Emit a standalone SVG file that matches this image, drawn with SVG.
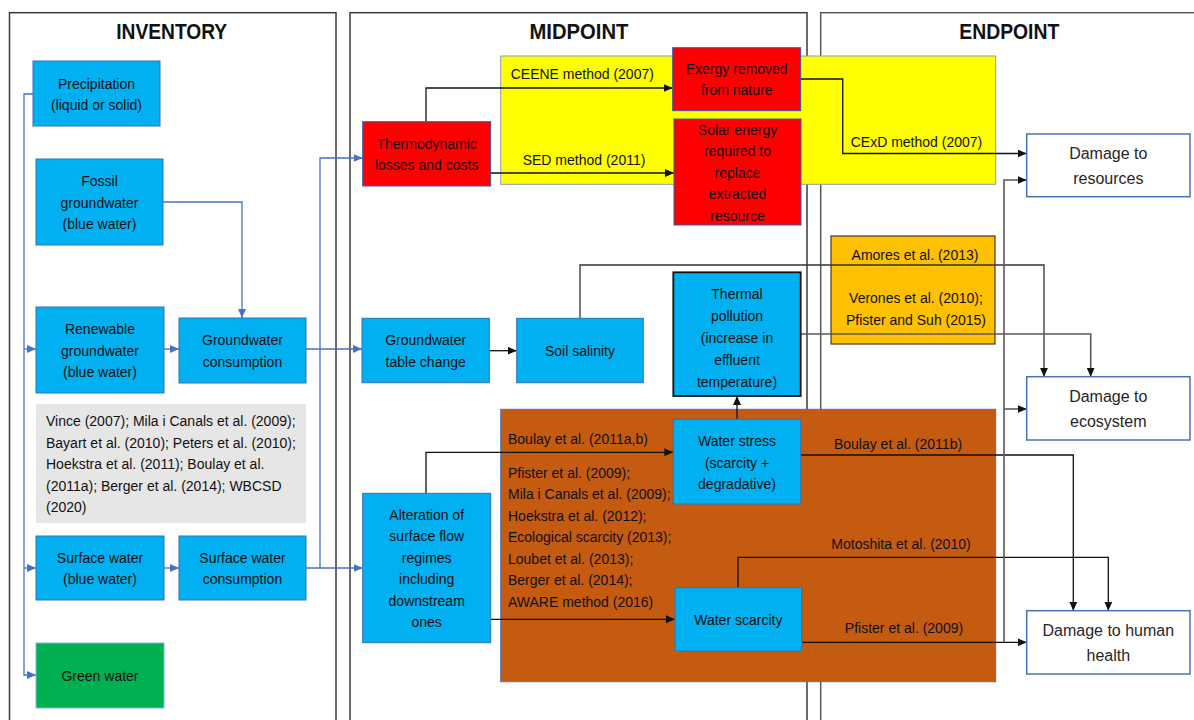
<svg xmlns="http://www.w3.org/2000/svg" width="1194" height="720" viewBox="0 0 1194 720">
<style>
text{font-family:"Liberation Sans",Arial,sans-serif;font-size:14px;fill:#111}
.c{text-anchor:middle}
.title{font-size:22px;font-weight:bold;text-anchor:middle;fill:#111}
.panel{fill:none;stroke:#3a3a3a;stroke-width:1.5}
.blue{fill:#00b0f0;stroke:#2e75b6;stroke-width:1}
.red{fill:#ff0000;stroke:#2e5fa8;stroke-width:1}
.dmg{fill:#fff;stroke:#4a72b8;stroke-width:1.5}
.dmg-t{font-size:16px;fill:#262626;text-anchor:middle}
.lb{fill:none;stroke:#4472c4;stroke-width:1.3}
.lk{fill:none;stroke:#111;stroke-width:1.3}
.lg{fill:none;stroke:#5a5a5a;stroke-width:1.6}
</style>
<defs>
<marker id="ab" markerUnits="userSpaceOnUse" markerWidth="10" markerHeight="8" refX="9" refY="4" orient="auto"><path d="M0,0 L9,4 L0,8 z" fill="#4472c4"/></marker>
<marker id="ak" markerUnits="userSpaceOnUse" markerWidth="10" markerHeight="8" refX="9" refY="4" orient="auto"><path d="M0,0 L9,4 L0,8 z" fill="#111"/></marker>
<marker id="ag" markerUnits="userSpaceOnUse" markerWidth="10" markerHeight="8" refX="9" refY="4" orient="auto"><path d="M0,0 L9,4 L0,8 z" fill="#111"/></marker>
</defs>
<rect width="1194" height="720" fill="#fff"/>

<g id="panels">
<rect class="panel" x="9.5" y="12.7" width="326.5" height="720"/>
<rect class="panel" x="350" y="12.7" width="457" height="720"/>
<rect class="panel" x="820.7" y="12.7" width="400" height="720" style="stroke:#5a5a5a"/>
<text class="title" x="171.7" y="39" textLength="111" lengthAdjust="spacingAndGlyphs">INVENTORY</text>
<text class="title" x="579" y="39" textLength="99" lengthAdjust="spacingAndGlyphs">MIDPOINT</text>
<text class="title" x="1009.3" y="39" textLength="100" lengthAdjust="spacingAndGlyphs">ENDPOINT</text>
</g>

<g id="groups">
<rect id="yellow-box" x="500.7" y="56" width="495" height="128.3" fill="#ffff00" stroke="#8a9ac0" stroke-width="1"/>
<rect id="orange-box" x="831" y="236" width="164" height="108" fill="#ffc000" stroke="#3a3a3a" stroke-width="1.2"/>
<rect id="brown-box" x="500.7" y="409.3" width="495" height="272.4" fill="#c55a11" stroke="#4a72b8" stroke-width="1"/>
<rect id="refs-box" x="36" y="404" width="270" height="119" fill="#e7e6e6"/>
</g>

<g id="connectors">
<path class="lb" d="M33,94 H24 V675 H36" marker-end="url(#ab)"/>
<path class="lb" d="M24,349 H36" marker-end="url(#ab)"/>
<path class="lb" d="M24,568 H36" marker-end="url(#ab)"/>
<path class="lb" d="M163,202 H242 V318" marker-end="url(#ab)"/>
<path class="lb" d="M164,349 H179" marker-end="url(#ab)"/>
<path class="lb" d="M306,349 H362" marker-end="url(#ab)"/>
<path class="lb" d="M164,568 H179" marker-end="url(#ab)"/>
<path class="lb" d="M306,568 H362.7" marker-end="url(#ab)"/>
<path class="lb" d="M320,568 V158 H362.7" marker-end="url(#ab)"/>

<path class="lk" d="M426,121.7 V88 H672.7" marker-end="url(#ak)"/>
<path class="lk" d="M490.7,173 H674" marker-end="url(#ak)"/>
<path class="lk" d="M800.7,79 H842.7 V153.5 H1026.7" marker-end="url(#ak)"/>
<path class="lk" d="M489.3,350.7 H516.7" marker-end="url(#ak)"/>
<path class="lk" d="M580,318.3 V265 H1044 V376.7" marker-end="url(#ak)" style="stroke:#333"/>
<path class="lg" d="M800.7,334 H1090.7 V376.7" marker-end="url(#ag)"/>
<path class="lk" d="M737,419.3 V396" marker-end="url(#ak)"/>
<path class="lk" d="M426,493.3 V452.3 H673.3" marker-end="url(#ak)"/>
<path class="lk" d="M490.7,619.3 H675" marker-end="url(#ak)"/>
<path class="lk" d="M738,587.7 V557.3 H1108.3 V610.7" marker-end="url(#ak)"/>
<path class="lk" d="M801.7,642.3 H1026.7" marker-end="url(#ak)"/>
<path class="lk" d="M800.7,455 H1073.3 V610.7" marker-end="url(#ak)"/>
<path class="lg" d="M1004,642.3 V180 H1026.7" marker-end="url(#ag)"/>
<path class="lg" d="M1004,409 H1026.7" marker-end="url(#ag)"/>
</g>

<g id="precipitation">
<rect class="blue" x="33" y="61" width="127" height="65"/>
<text class="c" x="96.5" y="88.5">Precipitation</text>
<text class="c" x="96.5" y="110">(liquid or solid)</text>
</g>
<g id="fossil-groundwater">
<rect class="blue" x="36" y="159" width="127" height="86"/>
<text class="c" x="99.5" y="186">Fossil</text>
<text class="c" x="99.5" y="207.5">groundwater</text>
<text class="c" x="99.5" y="229">(blue water)</text>
</g>
<g id="renewable-groundwater">
<rect class="blue" x="36" y="307" width="128" height="86"/>
<text class="c" x="100" y="334">Renewable</text>
<text class="c" x="100" y="355.5">groundwater</text>
<text class="c" x="100" y="377">(blue water)</text>
</g>
<g id="groundwater-consumption">
<rect class="blue" x="179" y="318" width="127" height="65"/>
<text class="c" x="242.5" y="345.3">Groundwater</text>
<text class="c" x="242.5" y="366.8">consumption</text>
</g>
<g id="inventory-references">
<text x="46" y="426">Vince (2007); Mila i Canals et al. (2009);</text>
<text x="46" y="447.5">Bayart et al. (2010); Peters et al. (2010);</text>
<text x="46" y="469">Hoekstra et al. (2011); Boulay et al.</text>
<text x="46" y="490.5">(2011a); Berger et al. (2014); WBCSD</text>
<text x="46" y="512">(2020)</text>
</g>
<g id="surface-water">
<rect class="blue" x="36" y="536" width="128" height="64"/>
<text class="c" x="100" y="562.8">Surface water</text>
<text class="c" x="100" y="584.3">(blue water)</text>
</g>
<g id="surface-water-consumption">
<rect class="blue" x="179" y="536" width="127" height="64"/>
<text class="c" x="242.5" y="562.8">Surface water</text>
<text class="c" x="242.5" y="584.3">consumption</text>
</g>
<g id="green-water">
<rect x="36" y="643" width="128" height="65" fill="#00b050" stroke="#7fb8e0" stroke-width="1"/>
<text class="c" x="100" y="681">Green water</text>
</g>

<g id="thermodynamic-losses">
<rect class="red" x="362.7" y="121.7" width="128" height="64.3"/>
<text class="c" x="426.7" y="148.6">Thermodynamic</text>
<text class="c" x="426.7" y="170.1">losses and costs</text>
</g>
<g id="exergy-removed">
<rect class="red" x="672.7" y="47.7" width="128" height="63"/>
<text class="c" x="736.7" y="73.9">Exergy removed</text>
<text class="c" x="736.7" y="95.4">from nature</text>
</g>
<g id="solar-energy">
<rect class="red" x="674" y="119" width="127" height="106"/>
<text class="c" x="737.5" y="134.5">Solar energy</text>
<text class="c" x="737.5" y="156">required to</text>
<text class="c" x="737.5" y="177.5">replace</text>
<text class="c" x="737.5" y="199">extracted</text>
<text class="c" x="737.5" y="220.5">resource</text>
</g>
<g id="method-labels-resources">
<text x="510.7" y="79">CEENE method (2007)</text>
<text x="522.7" y="165">SED method (2011)</text>
<text x="850.7" y="146.7">CExD method (2007)</text>
</g>
<g id="groundwater-table-change">
<rect class="blue" x="362" y="318.3" width="127.3" height="64.4"/>
<text class="c" x="425.7" y="345">Groundwater</text>
<text class="c" x="425.7" y="366.5">table change</text>
</g>
<g id="soil-salinity">
<rect class="blue" x="516.7" y="318.3" width="126.6" height="64.4"/>
<text class="c" x="580" y="356">Soil salinity</text>
</g>
<g id="thermal-pollution">
<rect x="673.3" y="272.3" width="127.4" height="123.7" fill="#00b0f0" stroke="#111" stroke-width="1.8"/>
<text class="c" x="737" y="299">Thermal</text>
<text class="c" x="737" y="321">pollution</text>
<text class="c" x="737" y="343">(increase in</text>
<text class="c" x="737" y="365">effluent</text>
<text class="c" x="737" y="387">temperature)</text>
</g>
<g id="ecosystem-labels">
<text class="c" x="915" y="260">Amores et al. (2013)</text>
<text class="c" x="916" y="303.3">Verones et al. (2010);</text>
<text class="c" x="916" y="325">Pfister and Suh (2015)</text>
</g>
<g id="water-stress">
<rect class="blue" x="673.3" y="419.3" width="127.4" height="84.7"/>
<text class="c" x="737" y="446">Water stress</text>
<text class="c" x="737" y="467.5">(scarcity +</text>
<text class="c" x="737" y="489">degradative)</text>
</g>
<g id="alteration-surface-flow">
<rect class="blue" x="362.7" y="493.3" width="128" height="149.4"/>
<text class="c" x="426.7" y="519.8">Alteration of</text>
<text class="c" x="426.7" y="541.3">surface flow</text>
<text class="c" x="426.7" y="562.8">regimes</text>
<text class="c" x="426.7" y="584.3">including</text>
<text class="c" x="426.7" y="605.8">downstream</text>
<text class="c" x="426.7" y="627.3">ones</text>
</g>
<g id="water-scarcity">
<rect class="blue" x="675" y="587.7" width="126.7" height="63.3"/>
<text class="c" x="738.3" y="625">Water scarcity</text>
</g>
<g id="water-method-labels">
<text x="508" y="444.3">Boulay et al. (2011a,b)</text>
<text x="508" y="477.5">Pfister et al. (2009);</text>
<text x="508" y="499">Mila i Canals et al. (2009);</text>
<text x="508" y="520.5">Hoekstra et al. (2012);</text>
<text x="508" y="542">Ecological scarcity (2013);</text>
<text x="508" y="563.5">Loubet et al. (2013);</text>
<text x="508" y="585">Berger et al. (2014);</text>
<text x="508" y="606.5">AWARE method (2016)</text>
<text class="c" x="898" y="449.3">Boulay et al. (2011b)</text>
<text class="c" x="901" y="549.3">Motoshita et al. (2010)</text>
<text class="c" x="904" y="633.3">Pfister et al. (2009)</text>
</g>

<g id="damage-resources">
<rect class="dmg" x="1026.7" y="134" width="163.3" height="62.7"/>
<text class="dmg-t" x="1108.3" y="158.5">Damage to</text>
<text class="dmg-t" x="1108.3" y="184">resources</text>
</g>
<g id="damage-ecosystem">
<rect class="dmg" x="1026.7" y="376.7" width="163.3" height="63.3"/>
<text class="dmg-t" x="1108.3" y="401.7">Damage to</text>
<text class="dmg-t" x="1108.3" y="426.7">ecosystem</text>
</g>
<g id="damage-human-health">
<rect class="dmg" x="1026.7" y="610.7" width="163.3" height="63.3"/>
<text class="dmg-t" x="1108.3" y="636">Damage to human</text>
<text class="dmg-t" x="1108.3" y="661">health</text>
</g>
</svg>
